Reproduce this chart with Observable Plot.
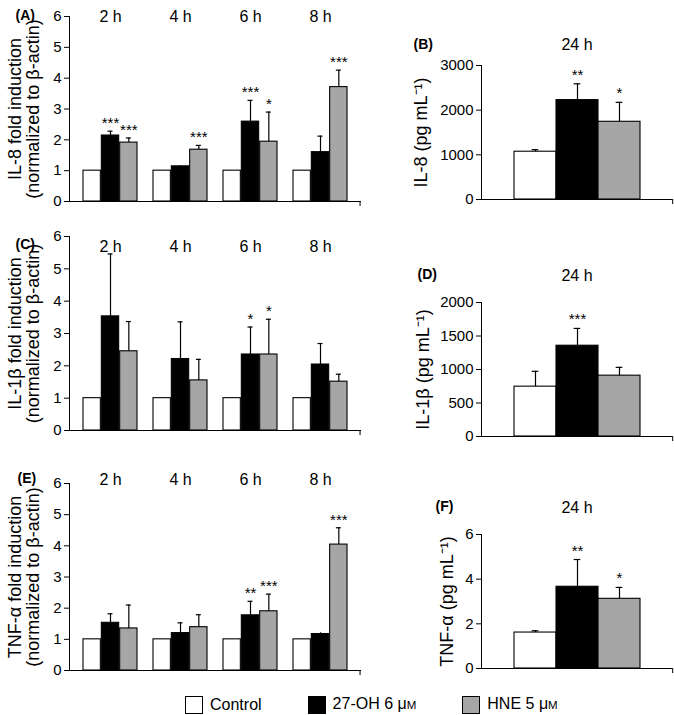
<!DOCTYPE html>
<html>
<head>
<meta charset="utf-8">
<script src="https://cdn.jsdelivr.net/npm/d3@7"></script>
<script src="https://cdn.jsdelivr.net/npm/@observablehq/plot@0.6"></script>
<style>
  html, body { margin: 0; padding: 0; background: #fff; }
  #chart { position: relative; width: 674px; height: 715px; overflow: hidden; font-family: 'Liberation Sans', Arial, Helvetica, sans-serif; color: #000; }
  #chart svg { position: absolute; overflow: visible; }
  #legend { position: absolute; left: 185px; top: 694px; display: flex; gap: 46px; font-size: 16px; line-height: 19px; }
  #legend .item { display: flex; align-items: center; }
  #legend .box { width: 16px; height: 16px; border: 1.5px solid #000; margin-right: 7px; box-sizing: content-box; }
  #legend .unit { font-size: 0.72em; }
</style>
</head>
<body>
<div id="chart"><div id="legend"></div></div>
<script>
// ---------- data ----------
const times = ["2 h", "4 h", "6 h", "8 h"];
const treatments = ["Control", "27-OH 6 μM", "HNE 5 μM"];

// (A) IL-8 mRNA fold induction
const il8Control = [1, 1, 1, 1];
const il8OH = [2.14, 1.14, 2.59, 1.60];
const il8HNE = [1.91, 1.68, 1.94, 3.71];
const il8ControlErr = [0, 0, 0, 0];
const il8OHErr = [0.14, 0.02, 0.69, 0.52];
const il8HNEErr = [0.15, 0.14, 0.96, 0.55];
const il8OHStars = ["***", "", "***", ""];
const il8HNEStars = ["***", "***", "*", "***"];

// (C) IL-1β mRNA fold induction
const il1Control = [1, 1, 1, 1];
const il1OH = [3.53, 2.21, 2.35, 2.04];
const il1HNE = [2.45, 1.55, 2.35, 1.51];
const il1ControlErr = [0, 0, 0, 0];
const il1OHErr = [1.93, 1.15, 0.85, 0.65];
const il1HNEErr = [0.92, 0.65, 1.09, 0.23];
const il1OHStars = ["", "", "*", ""];
const il1HNEStars = ["", "", "*", ""];

// (E) TNF-α mRNA fold induction
const tnfControl = [1, 1, 1, 1];
const tnfOH = [1.53, 1.20, 1.77, 1.17];
const tnfHNE = [1.35, 1.39, 1.90, 4.04];
const tnfControlErr = [0, 0, 0, 0];
const tnfOHErr = [0.29, 0.33, 0.45, 0.04];
const tnfHNEErr = [0.75, 0.40, 0.55, 0.54];
const tnfOHStars = ["", "", "**", ""];
const tnfHNEStars = ["", "", "***", "***"];

// (B) IL-8 protein 24 h (pg/mL)
const il8Protein = [1070, 2225, 1740];
const il8ProteinErr = [45, 365, 435];
const il8ProteinStars = ["", "**", "*"];
const il8ProteinTicks = [0, 1000, 2000, 3000];

// (D) IL-1β protein 24 h
const il1Protein = [744, 1355, 908];
const il1ProteinErr = [229, 258, 124];
const il1ProteinStars = ["", "***", ""];
const il1ProteinTicks = [0, 500, 1000, 1500, 2000];

// (F) TNF-α protein 24 h
const tnfProtein = [1.61, 3.66, 3.12];
const tnfProteinErr = [0.08, 1.22, 0.51];
const tnfProteinStars = ["", "**", "*"];
const tnfProteinTicks = [0, 2, 4, 6];

const foldTicks = [0, 1, 2, 3, 4, 5, 6];

// ---------- style ----------
const colors = ["#ffffff", "#000000", "#a6a6a6"];
const FONT = "'Liberation Sans', Arial, Helvetica, sans-serif";
const chart = document.getElementById("chart");

function place(svg, left, top) {
  svg.style.position = "absolute";
  svg.style.left = left + "px";
  svg.style.top = top + "px";
  chart.appendChild(svg);
}

function timePanel(o) {
  const W = 370, ml = 69, mr = 9, mb = 9;
  const pi = 0.225, po = 0.17;
  const fw = W - ml - mr;
  const step = fw / (times.length - pi + 2 * po);
  const bw = step * (1 - pi), sub = bw / 3, cap = 6;
  const top = Math.max(0, o.y0 - 24);
  const marks = [];
  treatments.forEach((t, k) => {
    const rows = times.map((h, i) => ({time: h, mean: o.means[k][i], err: o.errs[k][i], star: o.stars[k][i]}));
    const c = (k + 0.5) * sub;
    marks.push(Plot.barY(rows, {x: "time", y: "mean", fill: colors[k], stroke: "#000", strokeWidth: 1.1,
      insetLeft: k * sub, insetRight: (2 - k) * sub}));
    const er = rows.filter(d => d.err > 0);
    marks.push(Plot.ruleX(er, {x: "time", y1: "mean", y2: d => d.mean + d.err, dx: c - bw / 2, stroke: "#000", strokeWidth: 1.2}));
    marks.push(Plot.tickY(er.filter(d => d.err > 0.05), {x: "time", y: d => d.mean + d.err,
      insetLeft: c - cap / 2, insetRight: bw - c - cap / 2, stroke: "#000", strokeWidth: 1.2}));
    marks.push(Plot.text(rows.filter(d => d.star), {x: "time", y: d => d.mean + d.err, text: "star",
      dx: c - bw / 2, dy: -3, lineAnchor: "bottom", fontSize: 15}));
  });
  marks.push(Plot.ruleY([0], {stroke: "#000", strokeWidth: 1}));
  marks.push(Plot.ruleX(times.slice(-1), {x: d => d, y1: 0, y2: 0, insetBottom: -5, dx: bw / 2 + po * step, stroke: "#000"}));
  marks.push(Plot.text(times, {x: d => d, text: d => d, frameAnchor: "top", dy: o.timeDy, fontSize: 16}));
  marks.push(Plot.text([o.letter], {frameAnchor: "top-left", textAnchor: "start", dx: o.letterDx, dy: o.letterDy, fontSize: 14, fontWeight: "bold"}));
  marks.push(Plot.text([o.label], {frameAnchor: "left", textAnchor: "middle", lineAnchor: "middle", rotate: -90, dx: -45, fontSize: 18, lineHeight: 0.95}));
  const svg = Plot.plot({
    width: W, height: o.y1 - top + mb,
    marginLeft: ml, marginRight: mr, marginTop: o.y0 - top, marginBottom: mb,
    style: {fontFamily: FONT, fontSize: "15px", color: "#000", background: "transparent", overflow: "visible"},
    x: {domain: times, paddingInner: pi, paddingOuter: po, axis: null},
    y: {domain: [0, 6], ticks: foldTicks, tickFormat: "d", line: true, tickSize: 5, tickPadding: 3, label: null},
    marks
  });
  place(svg, 0, top);
}

function dosePanel(o) {
  const W = 294, ml = 101, mr = 2, mb = 9;
  const po = 0.756;
  const fw = W - ml - mr;
  const step = fw / (treatments.length + 2 * po);
  const bw = step, cap = 7;
  const top = o.y0 - 50;
  const rows = treatments.map((t, k) => ({treat: t, mean: o.means[k], err: o.errs[k], star: o.stars[k]}));
  const er = rows.filter(d => d.err > 0);
  const marks = [
    Plot.barY(rows, {x: "treat", y: "mean", fill: "treat", stroke: "#000", strokeWidth: 1.1}),
    Plot.ruleX(er, {x: "treat", y1: "mean", y2: d => d.mean + d.err, stroke: "#000", strokeWidth: 1.2}),
    Plot.tickY(er, {x: "treat", y: d => d.mean + d.err, insetLeft: (bw - cap) / 2, insetRight: (bw - cap) / 2, stroke: "#000", strokeWidth: 1.2}),
    Plot.text(rows.filter(d => d.star), {x: "treat", y: d => d.mean + d.err, text: "star", dy: -4, lineAnchor: "bottom", fontSize: 15}),
    Plot.ruleY([0], {stroke: "#000", strokeWidth: 1}),
    Plot.ruleX(treatments.slice(-1), {x: d => d, y1: 0, y2: 0, insetBottom: -5, dx: bw / 2 + po * step, stroke: "#000"}),
    Plot.text(["24 h"], {frameAnchor: "top", dy: o.titleDy, fontSize: 16}),
    Plot.text([o.letter], {frameAnchor: "top-left", textAnchor: "start", dx: o.letterDx, dy: o.letterDy, fontSize: 14, fontWeight: "bold"}),
    Plot.text([o.label], {frameAnchor: "left", textAnchor: "middle", lineAnchor: "middle", rotate: -90, dx: o.labelDx, fontSize: 18})
  ];
  const svg = Plot.plot({
    width: W, height: o.y1 - top + mb,
    marginLeft: ml, marginRight: mr, marginTop: o.y0 - top, marginBottom: mb,
    style: {fontFamily: FONT, fontSize: "15px", color: "#000", background: "transparent", overflow: "visible"},
    x: {domain: treatments, paddingInner: 0, paddingOuter: po, axis: null},
    y: {domain: [0, o.ticks[o.ticks.length - 1]], ticks: o.ticks, tickFormat: "d", line: true, tickSize: 5, tickPadding: 3, label: null},
    color: {domain: treatments, range: colors},
    marks
  });
  place(svg, 380, top);
}

timePanel({y0: 16, y1: 201, means: [il8Control, il8OH, il8HNE], errs: [il8ControlErr, il8OHErr, il8HNEErr],
  stars: [["", "", "", ""], il8OHStars, il8HNEStars], letter: "(A)", letterDx: -54, letterDy: -6, timeDy: -6,
  label: "IL-8 fold induction\n(normalized to β-actin)"});
timePanel({y0: 236, y1: 430, means: [il1Control, il1OH, il1HNE], errs: [il1ControlErr, il1OHErr, il1HNEErr],
  stars: [["", "", "", ""], il1OHStars, il1HNEStars], letter: "(C)", letterDx: -54, letterDy: 2.5, timeDy: 4,
  label: "IL-1β fold induction\n(normalized to β-actin)"});
timePanel({y0: 483, y1: 670, means: [tnfControl, tnfOH, tnfHNE], errs: [tnfControlErr, tnfOHErr, tnfHNEErr],
  stars: [["", "", "", ""], tnfOHStars, tnfHNEStars], letter: "(E)", letterDx: -52, letterDy: -10, timeDy: -10,
  label: "TNF-α fold induction\n(normalized to β-actin)"});

dosePanel({y0: 65, y1: 199, ticks: il8ProteinTicks, means: il8Protein, errs: il8ProteinErr, stars: il8ProteinStars,
  letter: "(B)", letterDx: -68, letterDy: -26, titleDy: -26.5, labelDx: -60, label: "IL-8 (pg mL⁻¹)"});
dosePanel({y0: 302, y1: 436, ticks: il1ProteinTicks, means: il1Protein, errs: il1ProteinErr, stars: il1ProteinStars,
  letter: "(D)", letterDx: -64, letterDy: -33, titleDy: -33, labelDx: -58, label: "IL-1β (pg mL⁻¹)"});
dosePanel({y0: 534, y1: 668, ticks: tnfProteinTicks, means: tnfProtein, errs: tnfProteinErr, stars: tnfProteinStars,
  letter: "(F)", letterDx: -46, letterDy: -33, titleDy: -32.5, labelDx: -34, label: "TNF-α (pg mL⁻¹)"});

// ---------- legend ----------
const legend = document.getElementById("legend");
treatments.forEach((t, k) => {
  const item = document.createElement("div");
  item.className = "item";
  const box = document.createElement("span");
  box.className = "box";
  box.style.background = colors[k];
  item.appendChild(box);
  const label = document.createElement("span");
  const m = t.match(/^(.*μ)(M)$/);
  if (m) {
    label.appendChild(document.createTextNode(m[1]));
    const u = document.createElement("span");
    u.className = "unit";
    u.textContent = m[2];
    label.appendChild(u);
  } else {
    label.textContent = t;
  }
  item.appendChild(label);
  legend.appendChild(item);
});
</script>
</body>
</html>
